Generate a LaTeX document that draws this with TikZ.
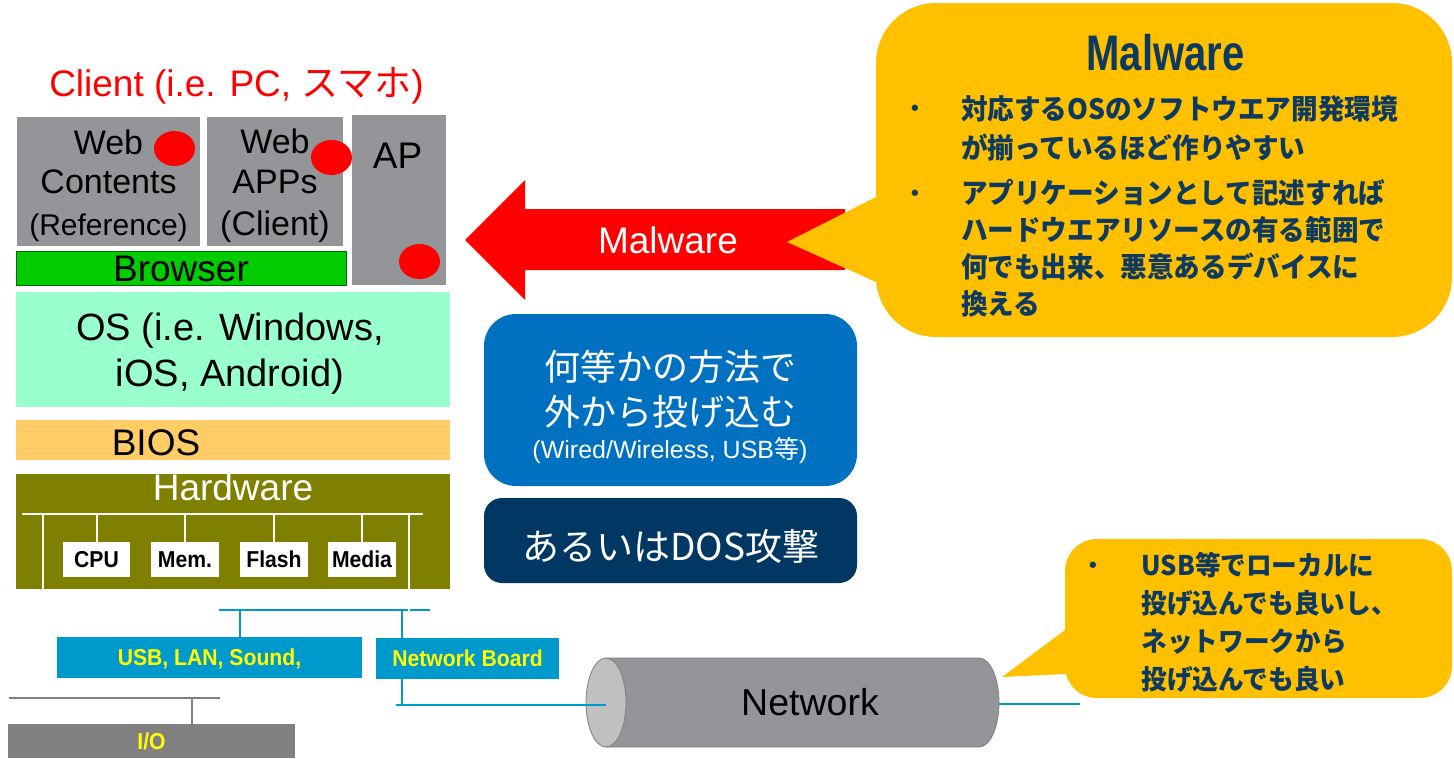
\documentclass[tikz,border=0pt]{standalone}
\usepackage{fontspec}
\setmainfont{Liberation Sans}
\newfontfamily\fontJP{Noto Sans CJK JP}
\newfontfamily\fontJPbold[FakeStretch=0.95]{Noto Sans CJK JP}
\newfontfamily\fontNarrow[FakeStretch=0.8]{Liberation Sans}
\newfontfamily\fontTag[FakeStretch=0.92]{Liberation Sans}
\usetikzlibrary{shapes.geometric}
\newcommand\setsz[2]{\fontsize{#1}{#2}\selectfont}

\definecolor{blkgray}{HTML}{939598}
\definecolor{brgreen}{HTML}{00CC00}
\definecolor{brborder}{HTML}{006600}
\definecolor{osgreen}{HTML}{99FFCC}
\definecolor{biosorange}{HTML}{FFCC66}
\definecolor{hwolive}{HTML}{808000}
\definecolor{busblue}{HTML}{0099CC}
\definecolor{iogray}{HTML}{808080}
\definecolor{callyellow}{HTML}{FFC000}
\definecolor{navytext}{HTML}{0E3A5F}
\definecolor{boxblue}{HTML}{0070C0}
\definecolor{boxnavy}{HTML}{003863}
\definecolor{cylface}{HTML}{BFC0C2}
\definecolor{cyledge}{HTML}{7F7F7F}
\definecolor{labelyellow}{HTML}{FFFF00}

\begin{document}
\begin{tikzpicture}[x=1pt,y=-1pt,
  every node/.style={inner sep=0pt, outer sep=0pt},
  panel/.style={rectangle, draw=none, fill=#1},
  lbl/.style={anchor=base, text=black},
  reddot/.style={ellipse, fill=red, minimum width=41pt, minimum height=35pt},
  chip/.style={panel=white, minimum width=68pt, minimum height=35pt,
    font=\fontTag\bfseries\setsz{23}{26}, text height=16.5pt, text depth=0pt},
  port/.style={panel=#1, text=labelyellow, font=\fontTag\bfseries\setsz{23}{26},
    text height=16.5pt, text depth=0pt},
  hwline/.style={white, line width=2pt},
  busline/.style={busblue, line width=2pt},
  ioline/.style={iogray, line width=2pt},
  balloon/.style={fill=callyellow},
  calltext/.style={anchor=base west, align=left, text=navytext},
  bullet/.style={anchor=base, text=navytext, font=\bfseries\setsz{22}{24}},
]
\useasboundingbox (0,0) rectangle (1454,758);

% ---------- client software stack ----------
\node[lbl, text=red, font=\setsz{37}{40}] (clienttitle) at (236.5,96)
  {Client (i.e. PC, {\fontJP スマホ})};

\node[panel=blkgray, minimum width=183pt, minimum height=129pt] (webc) at (108.5,181.5) {};
\node[panel=blkgray, minimum width=136pt, minimum height=129pt] (webapp) at (275,181.5) {};
\node[panel=blkgray, minimum width=94pt, minimum height=170pt] (ap) at (399,200) {};
\node[panel=brgreen, draw=brborder, line width=1pt, minimum width=330pt, minimum height=34pt] (browser) at (181,268) {};
\node[panel=osgreen, minimum width=434pt, minimum height=115pt] (os) at (233,349.5) {};
\node[panel=biosorange, minimum width=434pt, minimum height=40pt] (bios) at (233,440) {};
\node[panel=hwolive, minimum width=434pt, minimum height=115pt] (hw) at (233,531.5) {};

% multi-line labels are anchored at the baseline of their last line
\node[lbl, align=center, font=\setsz{34}{39}] (webctext) at (108.5,235)
  {Web\\Contents\\[3pt]{\setsz{30}{39}(Reference)}};
\node[lbl, align=center, font=\setsz{34}{40}] (webapptext) at (275,235)
  {Web\\APPs\\[2pt](Client)};
\node[lbl, font=\setsz{37}{40}] (aptext) at (397.5,168) {AP};
\node[lbl, font=\setsz{37}{40}] (browsertext) at (181,281.5) {Browser};
\node[lbl, align=center, font=\setsz{38}{46}] (ostext) at (230,386)
  {OS (i.e. Windows,\\iOS, Android)};
\node[lbl, font=\setsz{37}{40}] (biostext) at (156,455) {BIOS};
\node[lbl, text=white, font=\setsz{37}{40}] (hwtext) at (233,500) {Hardware};

\node[reddot] (dotweb) at (174.5,148.5) {};
\node[reddot] (dotapp) at (331.5,157.5) {};
\node[reddot] (dotap) at (419.5,261.5) {};

% ---------- hardware components ----------
\node[chip, minimum width=67pt] (cpu) at (96.5,559.5) {CPU};
\node[chip] (mem) at (185,559.5) {Mem.};
\node[chip] (flash) at (274,559.5) {Flash};
\node[chip] (media) at (362,559.5) {Media};

\coordinate (hbL) at (22,514);
\coordinate (hbR) at (423,514);
\draw[hwline] (hbL) -- (hbR);
\foreach \n in {cpu,mem,flash,media} \draw[hwline] (\n.north) -- (\n.north |- hbL);
\draw[hwline] (43,514) -- (43,589);

% ---------- expansion bus ----------
\node[port=busblue, minimum width=305pt, minimum height=41pt] (usb) at (209.5,657.5) {USB, LAN, Sound,};
\node[port=busblue, minimum width=183pt, minimum height=41pt] (nb) at (467.5,658.5) {Network Board};
\node[port=iogray, minimum width=287pt, minimum height=34pt] (io) at (151.5,741) {I/O};

\coordinate (busL) at (219,610);
\coordinate (busR) at (430,610);
\coordinate (usbtap) at (240,610);
\coordinate (nbtap) at (402,610);
\draw[busline] (busL) -- (busR);
\draw[hwline] (409,514) -- (409,613);
\draw[busline] (usbtap) -- (usbtap |- usb.north);
\draw[busline] (nbtap) -- (nbtap |- nb.north);

\coordinate (iobarL) at (9,698);
\coordinate (iobarR) at (220,698);
\coordinate (iotap) at (192,698);
\draw[ioline] (iobarL) -- (iobarR);
\draw[ioline] (iotap) -- (iotap |- io.north);

% ---------- network cable ----------
\path[fill=blkgray, draw=cyledge, line width=0.8pt] (606,658) -- (979,658)
  arc[start angle=-90, end angle=90, x radius=20, y radius=44.5] -- (606,747) -- cycle;
\path[fill=cylface, draw=cyledge, line width=0.8pt] (606,702.5) ellipse [x radius=20, y radius=44.5];
\node[lbl, font=\setsz{37.5}{40}] (nettext) at (810,715) {Network};
\coordinate (netL) at (606,705);
\coordinate (netR) at (999,704);
\coordinate (lanstart) at (396,705);
\coordinate (lanend) at (1080,704);
\draw[busline] (nb.south -| nbtap) -- (nbtap |- netL);
\draw[busline] (lanstart) -- (netL);
\draw[busline] (netR) -- (lanend);

% ---------- injection paths ----------
\node[fill=boxblue, rounded corners=32pt, minimum width=373pt, minimum height=172pt] (way) at (670.5,400) {};
\node[lbl, text=white, align=center, font=\fontJP\setsz{36}{45}] (waytext) at (670,425)
  {何等かの方法で\\外から投げ込む};
\node[lbl, text=white, font=\setsz{25}{28}] (waysub) at (670,458) {(Wired/Wireless, USB{\fontJP 等})};

\node[fill=boxnavy, rounded corners=18pt, minimum width=373pt, minimum height=85pt] (dos) at (670.5,540.5) {};
\node[lbl, text=white, font=\fontJP\setsz{37}{40}] (dostext) at (671,560.5) {あるいはDOS攻撃};

% ---------- malware arrow ----------
\fill[red] (465,240) -- (525,180) -- (525,209) -- (845,209) -- (845,270) -- (525,270) -- (525,300) -- cycle;
\node[lbl, text=white, font=\setsz{37}{40}] (maltext) at (668,253) {Malware};

% ---------- balloons ----------
\node[balloon, rounded corners=60pt, minimum width=576pt, minimum height=334pt] (mwcall) at (1164,170) {};
\fill[callyellow] (876,197) -- (787,242) -- (876,282) -- (920,282) -- (920,197) -- cycle;
\node[lbl, text=navytext, font=\fontNarrow\bfseries\setsz{50}{55}] (mwtitle) at (1165.5,70) {Malware};
\node[bullet] (mwb1) at (915,115.7) {•};
\node[bullet] (mwb2) at (915,200.7) {•};
\node[calltext, font=\fontJPbold\bfseries\setsz{28}{38.5}] (mwtext1) at (961,158)
  {対応するOSのソフトウエア開発環境\\が揃っているほど作りやすい};
\node[calltext, font=\fontJPbold\bfseries\setsz{28}{36.7}] (mwtext2) at (961,314)
  {アプリケーションとして記述すれば\\ハードウエアリソースの有る範囲で\\何でも出来、悪意あるデバイスに\\換える};

\node[balloon, rounded corners=32pt, minimum width=387pt, minimum height=159pt] (usbcall) at (1258.5,618.5) {};
\fill[callyellow] (1065,630) -- (1002,677) -- (1065,674) -- (1100,674) -- (1100,630) -- cycle;
\node[bullet] (usbb) at (1093,572.7) {•};
\node[calltext, font=\fontJPbold\bfseries\setsz{27}{37.8}] (usbtext) at (1141.5,689)
  {USB等でローカルに\\投げ込んでも良いし、\\ネットワークから\\投げ込んでも良い};
\end{tikzpicture}
\end{document}
